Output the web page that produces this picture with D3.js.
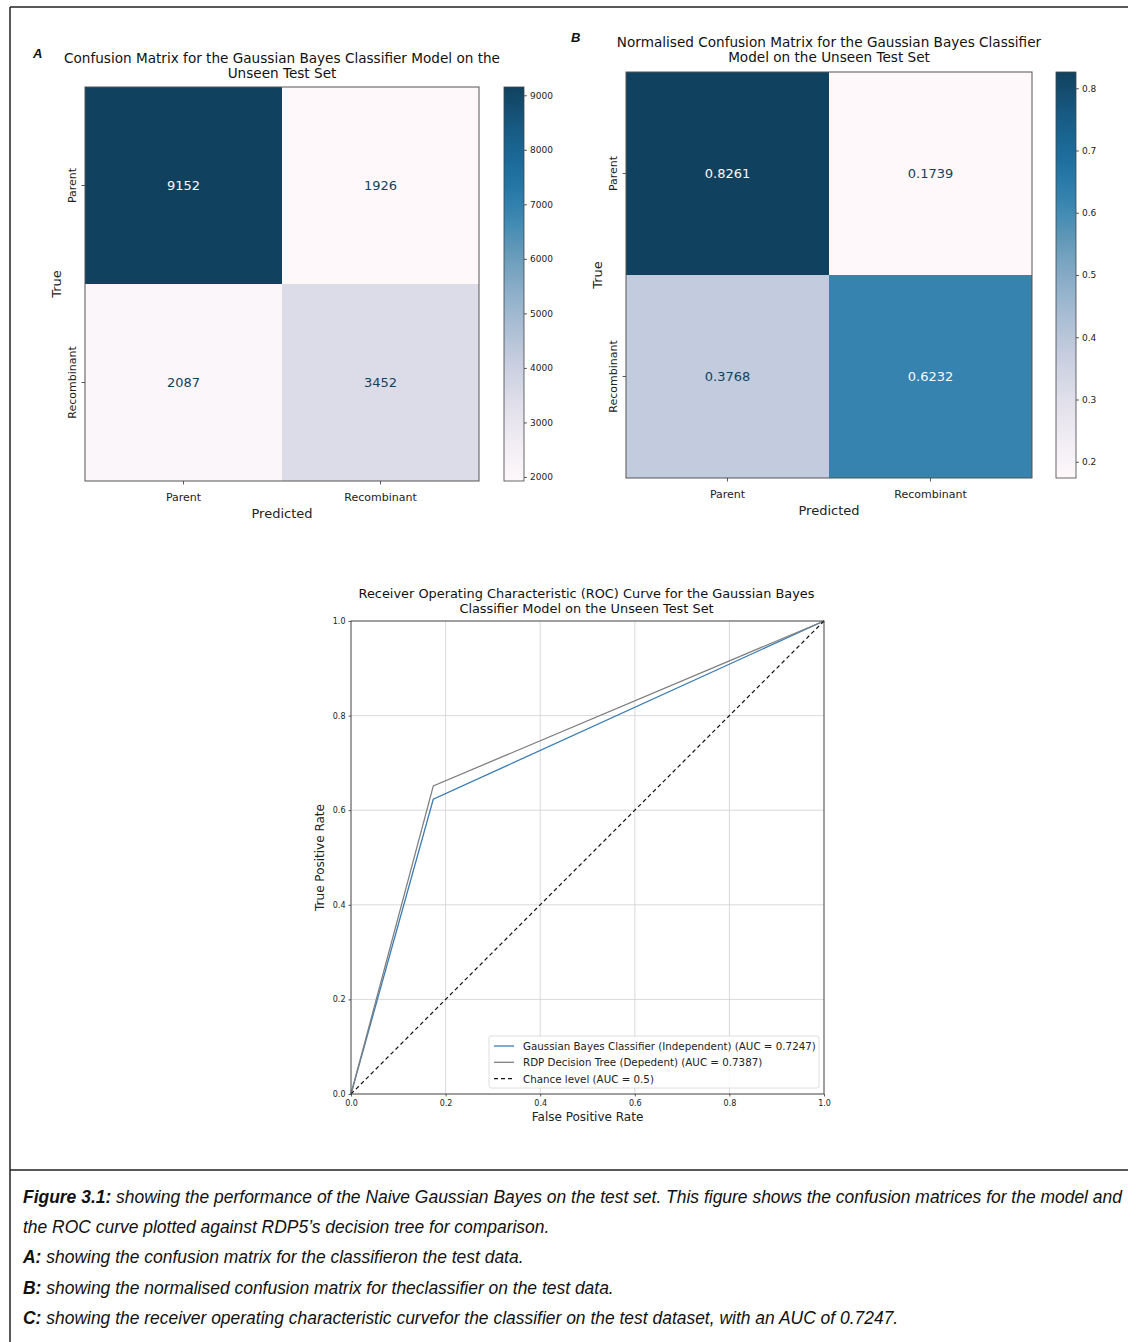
<!DOCTYPE html>
<html>
<head>
<meta charset="utf-8">
<script src="https://cdn.jsdelivr.net/npm/d3@7"></script>
<style>
  html, body { margin: 0; padding: 0; background: #fff; }
  svg { display: block; font-family: "DejaVu Sans", sans-serif; }
</style>
</head>
<body>
<svg id="fig" width="1128" height="1342"></svg>
<script>
// ---- data ----
const classes = ["Parent", "Recombinant"];
const countMatrix = [[9152, 1926], [2087, 3452]];
const normMatrix = [[0.8261, 0.1739], [0.3768, 0.6232]];
const countTicks = [2000, 3000, 4000, 5000, 6000, 7000, 8000, 9000];
const normTicks = [0.2, 0.3, 0.4, 0.5, 0.6, 0.7, 0.8];
const rocTicks = [0.0, 0.2, 0.4, 0.6, 0.8, 1.0];
const gbFpr = [0, 0.1739, 1];
const gbTpr = [0, 0.6232, 1];
const rdpFpr = [0, 0.1740, 1];
const rdpTpr = [0, 0.6514, 1];
const chanceFpr = [0, 1];
const chanceTpr = [0, 1];
const legendLabels = [
  "Gaussian Bayes Classifier (Independent) (AUC = 0.7247)",
  "RDP Decision Tree (Depedent) (AUC = 0.7387)",
  "Chance level (AUC = 0.5)"
];
const captionLines = [
  [["Figure 3.1:", true], [" showing the performance of the Naive Gaussian Bayes on the test set. This figure shows the confusion matrices for the model and", false]],
  [["the ROC curve plotted against RDP5\u2019s decision tree for comparison.", false]],
  [["A:", true], [" showing the confusion matrix for the classifieron the test data.", false]],
  [["B:", true], [" showing the normalised confusion matrix for theclassifier on the test data.", false]],
  [["C:", true], [" showing the receiver operating characteristic curvefor the classifier on the test dataset, with an AUC of 0.7247.", false]]
];

const svg = d3.select("#fig");
const defs = svg.append("defs");
const TEXT = "#222";

// PuBu palette, slightly muted as in the printed figure
function mutedPuBu(t) {
  const c = d3.hsl(d3.interpolatePuBu(t));
  c.s *= 0.74;
  c.l += 0.05 * (1 - c.l);
  return c.formatHex();
}

// ---- page frame ----
svg.append("line").attr("x1", 10).attr("x2", 1128).attr("y1", 7).attr("y2", 7)
  .attr("stroke", "#222").attr("stroke-width", 1.5);
svg.append("line").attr("x1", 10).attr("x2", 10).attr("y1", 7).attr("y2", 1342)
  .attr("stroke", "#222").attr("stroke-width", 1.5);
svg.append("line").attr("x1", 10).attr("x2", 1128).attr("y1", 1170).attr("y2", 1170)
  .attr("stroke", "#222").attr("stroke-width", 1.5);

function styleAxis(g, size) {
  g.selectAll("path.domain").remove();
  g.selectAll(".tick line").attr("stroke", "#333").attr("stroke-width", 0.8);
  g.selectAll(".tick text").attr("fill", TEXT).style("font-size", size + "px")
    .style("font-family", "DejaVu Sans, sans-serif");
}

// ---- confusion matrix panel ----
function confusionPanel(opt) {
  const { x0, y0, size, matrix, fmt, ticks, cbX, titleLines, titleY, letter, letterX, letterY, id } = opt;
  const g = svg.append("g");
  const flat = matrix.flat();
  const lo = d3.min(flat), hi = d3.max(flat);
  const color = d3.scaleSequential(mutedPuBu).domain([lo, hi]);
  const xb = d3.scaleBand().domain(classes).range([x0, x0 + size]);
  const yb = d3.scaleBand().domain(classes).range([y0, y0 + size]);
  const thresh = (lo + hi) / 2;

  const cells = [];
  matrix.forEach((row, i) => row.forEach((v, j) => cells.push({ t: classes[i], p: classes[j], v })));

  g.selectAll("rect.cell").data(cells).enter().append("rect")
    .attr("x", d => xb(d.p)).attr("y", d => yb(d.t))
    .attr("width", xb.bandwidth()).attr("height", yb.bandwidth())
    .attr("fill", d => color(d.v));

  g.selectAll("text.val").data(cells).enter().append("text")
    .attr("x", d => xb(d.p) + xb.bandwidth() / 2)
    .attr("y", d => yb(d.t) + yb.bandwidth() / 2)
    .attr("text-anchor", "middle").attr("dominant-baseline", "central")
    .style("font-size", "13px")
    .attr("fill", d => d.v >= thresh ? color(lo) : color(hi))
    .text(d => fmt(d.v));

  g.append("rect").attr("x", x0).attr("y", y0).attr("width", size).attr("height", size)
    .attr("fill", "none").attr("stroke", "#555").attr("stroke-width", 1);

  const ax = g.append("g").attr("transform", `translate(0,${y0 + size})`)
    .call(d3.axisBottom(xb).tickSize(3.5).tickPadding(9));
  styleAxis(ax, 11);
  const ay = g.append("g").attr("transform", `translate(${x0},0)`)
    .call(d3.axisLeft(yb).tickSize(3.5).tickPadding(5));
  styleAxis(ay, 11);
  ay.selectAll(".tick text").attr("transform", "rotate(-90)")
    .attr("x", 0).attr("y", -9).attr("dy", 0).attr("text-anchor", "middle");

  g.append("text").attr("x", x0 + size / 2).attr("y", y0 + size + 37)
    .attr("text-anchor", "middle").style("font-size", "13px").attr("fill", TEXT).text("Predicted");
  g.append("text").attr("transform", `translate(${x0 - 24},${y0 + size / 2}) rotate(-90)`)
    .attr("text-anchor", "middle").style("font-size", "13px").attr("fill", TEXT).text("True");

  titleLines.forEach((t, k) => {
    g.append("text").attr("x", x0 + size / 2).attr("y", titleY + k * 15)
      .attr("text-anchor", "middle").style("font-size", "13.6px").attr("fill", "#111").text(t);
  });
  g.append("text").attr("x", letterX).attr("y", letterY)
    .style("font-size", "13px").style("font-weight", "bold").style("font-style", "italic")
    .style("font-family", "Liberation Sans, Arial, sans-serif").attr("fill", "#111").text(letter);

  // colour bar
  const cbW = 20;
  const cy = d3.scaleLinear().domain([lo, hi]).range([y0 + size, y0]);
  const grad = defs.append("linearGradient").attr("id", id)
    .attr("x1", 0).attr("y1", 1).attr("x2", 0).attr("y2", 0);
  d3.range(0, 1.0001, 0.05).forEach(t => {
    grad.append("stop").attr("offset", t).attr("stop-color", color(lo + t * (hi - lo)));
  });
  g.append("rect").attr("x", cbX).attr("y", y0).attr("width", cbW).attr("height", size)
    .attr("fill", `url(#${id})`).attr("stroke", "#444").attr("stroke-width", 0.8);
  const cax = g.append("g").attr("transform", `translate(${cbX + cbW},0)`)
    .call(d3.axisRight(cy).tickValues(ticks).tickSize(3).tickPadding(3)
      .tickFormat(d3.format(ticks[0] < 1 ? ".1f" : "d")));
  styleAxis(cax, 9);
}

confusionPanel({
  x0: 85, y0: 87, size: 394, matrix: countMatrix, fmt: d3.format("d"), ticks: countTicks,
  cbX: 504, titleLines: ["Confusion Matrix for the Gaussian Bayes Classifier Model on the", "Unseen Test Set"],
  titleY: 63, letter: "A", letterX: 33, letterY: 58, id: "cbA"
});
confusionPanel({
  x0: 626, y0: 72, size: 406, matrix: normMatrix, fmt: d3.format(".4f"), ticks: normTicks,
  cbX: 1056, titleLines: ["Normalised Confusion Matrix for the Gaussian Bayes Classifier", "Model on the Unseen Test Set"],
  titleY: 47, letter: "B", letterX: 571, letterY: 42, id: "cbB"
});

// ---- ROC panel ----
const roc = svg.append("g");
const rx0 = 351, ry0 = 621, rs = 473;
const xs = d3.scaleLinear().domain([0, 1]).range([rx0, rx0 + rs]);
const ys = d3.scaleLinear().domain([0, 1]).range([ry0 + rs, ry0]);

roc.append("g").selectAll("line.gx").data(rocTicks).enter().append("line")
  .attr("x1", d => xs(d)).attr("x2", d => xs(d)).attr("y1", ry0).attr("y2", ry0 + rs)
  .attr("stroke", "#cfcfcf").attr("stroke-width", 0.8);
roc.append("g").selectAll("line.gy").data(rocTicks).enter().append("line")
  .attr("y1", d => ys(d)).attr("y2", d => ys(d)).attr("x1", rx0).attr("x2", rx0 + rs)
  .attr("stroke", "#cfcfcf").attr("stroke-width", 0.8);

const line = d3.line().x(d => xs(d[0])).y(d => ys(d[1]));
const series = [
  { pts: d3.zip(gbFpr, gbTpr), color: "#3b7db5", dash: null, w: 1.3 },
  { pts: d3.zip(rdpFpr, rdpTpr), color: "#808080", dash: null, w: 1.3 },
  { pts: d3.zip(chanceFpr, chanceTpr), color: "#111", dash: "4,3", w: 1.2 }
];
series.forEach(s => {
  roc.append("path").attr("d", line(s.pts)).attr("fill", "none")
    .attr("stroke", s.color).attr("stroke-width", s.w)
    .attr("stroke-dasharray", s.dash);
});

roc.append("rect").attr("x", rx0).attr("y", ry0).attr("width", rs).attr("height", rs)
  .attr("fill", "none").attr("stroke", "#444").attr("stroke-width", 0.9);

const rax = roc.append("g").attr("transform", `translate(0,${ry0 + rs})`)
  .call(d3.axisBottom(xs).tickValues(rocTicks).tickFormat(d3.format(".1f")).tickSize(2.5).tickPadding(4));
styleAxis(rax, 8);
const ray = roc.append("g").attr("transform", `translate(${rx0},0)`)
  .call(d3.axisLeft(ys).tickValues(rocTicks).tickFormat(d3.format(".1f")).tickSize(2.5).tickPadding(3));
styleAxis(ray, 8);

roc.append("text").attr("x", rx0 + rs / 2).attr("y", 1121).attr("text-anchor", "middle")
  .style("font-size", "12px").attr("fill", TEXT).text("False Positive Rate");
roc.append("text").attr("transform", `translate(324,${ry0 + rs / 2}) rotate(-90)`)
  .attr("text-anchor", "middle").style("font-size", "12px").attr("fill", TEXT).text("True Positive Rate");
["Receiver Operating Characteristic (ROC) Curve for the Gaussian Bayes",
 "Classifier Model on the Unseen Test Set"].forEach((t, k) => {
  roc.append("text").attr("x", rx0 + rs / 2 - 1).attr("y", 598 + k * 14.5).attr("text-anchor", "middle")
    .style("font-size", "12.9px").attr("fill", "#111").text(t);
});

// legend
const lg = roc.append("g");
lg.append("rect").attr("x", 489).attr("y", 1036).attr("width", 330).attr("height", 52)
  .attr("rx", 2).attr("fill", "#fff").attr("fill-opacity", 0.85)
  .attr("stroke", "#d6d6d6").attr("stroke-width", 0.8);
legendLabels.forEach((t, k) => {
  const yy = 1046 + k * 16.3;
  lg.append("line").attr("x1", 494).attr("x2", 514).attr("y1", yy).attr("y2", yy)
    .attr("stroke", series[k].color).attr("stroke-width", series[k].w)
    .attr("stroke-dasharray", series[k].dash);
  lg.append("text").attr("x", 523).attr("y", yy).attr("dominant-baseline", "central")
    .style("font-size", "10.3px").attr("fill", TEXT).text(t);
});

// ---- caption ----
const cap = svg.append("g").style("font-family", "Liberation Sans, Arial, sans-serif")
  .style("font-style", "italic").style("font-size", "18px");
const capText = [];
captionLines.forEach((parts, k) => {
  const t = cap.append("text").attr("x", 0).attr("y", 1203 + k * 30.2).attr("fill", "#111");
  parts.forEach(([s, b]) => t.append("tspan").style("font-weight", b ? "bold" : "normal").text(s));
  capText.push(t);
});
const firstLen = capText[0].node().getComputedTextLength();
const sx = 1100 / firstLen;
cap.attr("transform", `translate(23,0) scale(${sx},1)`);
</script>
</body>
</html>
